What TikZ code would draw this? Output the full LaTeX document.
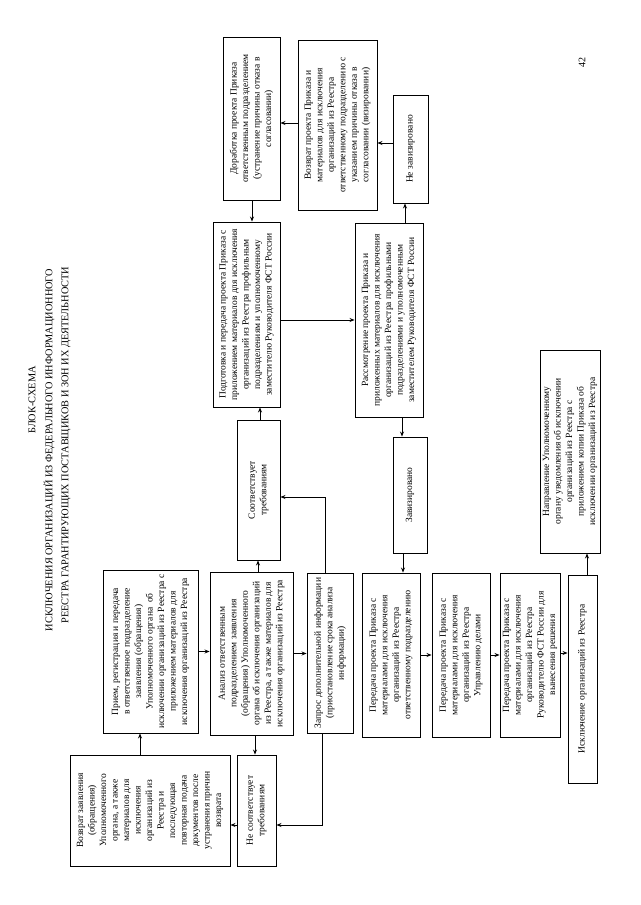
\documentclass[tikz,border=0pt]{standalone}
\usepackage{fontspec}
\setmainfont{Liberation Serif}
\usetikzlibrary{arrows.meta}
\newcommand{\bxfont}{\fontsize{9.5}{11.5}\selectfont}
\newcommand{\ttlfont}{\fontsize{10.3}{12}\selectfont}
\begin{document}
\begin{tikzpicture}[x=1pt,y=-1pt,
  bx/.style={draw, line width=0.9pt, align=center, inner sep=1pt, rotate=90, font=\bxfont},
  ttl/.style={rotate=90, inner sep=0pt, font=\ttlfont},
  arr/.style={line width=0.8pt, -{Stealth[length=5pt,width=4pt]}}]
\useasboundingbox (0,0) rectangle (640,905);
\node[ttl] (title1) at (32,400) {БЛОК-СХЕМА};
\node[ttl] (title2) at (49,450) {ИСКЛЮЧЕНИЯ ОРГАНИЗАЦИЙ ИЗ ФЕДЕРАЛЬНОГО ИНФОРМАЦИОННОГО};
\node[ttl] (title3) at (66,445) {РЕЕСТРА ГАРАНТИРУЮЩИХ ПОСТАВЩИКОВ И ЗОН ИХ ДЕЯТЕЛЬНОСТИ};
\node[rotate=90, font=\fontsize{10}{12}\selectfont] (pnum) at (582,62) {42};

\node[bx, minimum width=111pt, minimum height=160pt] (vozvrat) at (150,810.5)
  {Возврат заявления\\(обращения)\\Уполномоченного\\органа, а также\\материалов для\\исключения\\организаций из\\Реестра и\\последующая\\повторная подача\\документов после\\устранения причин\\возврата};
\node[bx, minimum width=163pt, minimum height=95pt] (priem) at (150.5,651.5)
  {Прием, регистрация и передача\\в ответственное подразделение\\заявления (обращения)\\Уполномоченного органа~ об\\исключении организаций из Реестра с\\приложением материалов для\\исключения организаций из Реестра};
\node[bx, minimum width=163pt, minimum height=83pt] (analiz) at (251.5,653.5)
  {Анализ ответственным\\подразделением заявления\\(обращения) Уполномоченного\\органа об исключения организаций\\из Реестра, а также материалов для\\исключения организаций из Реестра};
\node[bx, minimum width=111pt, minimum height=39pt] (nesoot) at (256.5,810.5)
  {Не соответствует\\требованиям};
\node[bx, minimum width=140pt, minimum height=43pt] (sootv) at (258.5,490)
  {Соответствует\\требованиям};
\node[bx, minimum width=160pt, minimum height=46pt] (zapros) at (330,653)
  {Запрос дополнительной информации\\(приостановление срока анализа\\информации)};
\node[bx, minimum width=185pt, minimum height=67pt] (podg) at (246.5,314.5)
  {Подготовка и передача проекта Приказа с\\приложением материалов для исключения\\организаций из Реестра профильным\\подразделениям и уполномоченному\\заместителю Руководителя ФСТ России};
\node[bx, minimum width=163pt, minimum height=57pt] (dorab) at (251.5,118.5)
  {Доработка проекта Приказа\\ответственным подразделением\\(устранение причины отказа в\\согласовании)};
\node[bx, minimum width=170pt, minimum height=79pt] (vozvrpr) at (337.5,125)
  {Возврат проекта Приказа и\\материалов для исключения\\организаций из Реестра\\ответственному подразделению с\\указанием причины отказа в\\согласовании (визировании)};
\node[bx, minimum width=108pt, minimum height=35pt] (nezaviz) at (410.5,149)
  {Не завизировано};
\node[bx, minimum width=194pt, minimum height=68pt] (rassm) at (389,320)
  {Рассмотрение проекта Приказа и\\приложенных материалов для исключения\\организаций из Реестра профильными\\подразделениями и уполномоченным\\заместителем Руководителя ФСТ России};
\node[bx, minimum width=116pt, minimum height=34pt] (zaviz) at (410,495)
  {Завизировано};
\node[bx, minimum width=164pt, minimum height=58pt] (p1) at (391,655)
  {Передача проекта Приказа с\\материалами для исключения\\организаций из Реестра\\ответственному подразделению};
\node[bx, minimum width=164pt, minimum height=58pt] (p2) at (461,655)
  {Передача проекта Приказа с\\материалами для исключения\\организаций из Реестра\\Управлению делами};
\node[bx, minimum width=164pt, minimum height=60pt] (p3) at (530,655)
  {Передача проекта Приказа с\\материалами для исключения\\организаций из Реестра\\Руководителю ФСТ России для\\вынесения решения};
\node[bx, minimum width=208pt, minimum height=29pt] (iskl) at (582.5,679)
  {Исключение организаций из Реестра};
\node[bx, minimum width=203pt, minimum height=60pt] (napr) at (570,451.5)
  {Направление Уполномоченному\\органу уведомления об исключении\\организаций из Реестра с\\приложением копии Приказа об\\исключении организаций из Реестра};

% connectors
\draw[arr] (140,0 |- vozvrat.east) -- (140,0 |- priem.west);
\draw[arr] (priem.south) -- (priem.south -| analiz.north);
\draw[arr] (analiz.south) -- (analiz.south -| zapros.north);
\draw[arr] (255,0 |- analiz.west) -- (255,0 |- nesoot.east);
\draw[arr] (258,0 |- analiz.east) -- (258,0 |- sootv.west);
\draw[arr] (nesoot.north |- 0,825) -- (vozvrat.south |- 0,825);
\coordinate (zq1) at (325,497);
\coordinate (zq2) at (322,825);
\draw[arr] (325,0 |- zapros.east) -- (zq1) -- (sootv.south |- zq1);
\draw[arr] (322,0 |- zapros.west) -- (zq2) -- (nesoot.south |- zq2);
\draw[arr] (260,0 |- sootv.east) -- (260,0 |- podg.west);
\draw[arr] (252,0 |- dorab.west) -- (252,0 |- podg.east);
\draw[arr] (vozvrpr.north |- 0,123) -- (dorab.south |- 0,123);
\draw[arr] (nezaviz.north |- 0,143) -- (vozvrpr.south |- 0,143);
\draw[arr] (405,0 |- rassm.east) -- (405,0 |- nezaviz.west);
\draw[arr] (podg.south |- 0,320) -- (rassm.north |- 0,320);
\draw[arr] (402,0 |- rassm.west) -- (402,0 |- zaviz.east);
\draw[arr] (403,0 |- zaviz.west) -- (403,0 |- p1.east);
\draw[arr] (p1.south) -- (p1.south -| p2.north);
\draw[arr] (p2.south) -- (p2.south -| p3.north);
\draw[arr] (p3.south |- 0,653) -- (iskl.north |- 0,653);
\draw[arr] (587,0 |- iskl.east) -- (587,0 |- napr.west);
\end{tikzpicture}
\end{document}
